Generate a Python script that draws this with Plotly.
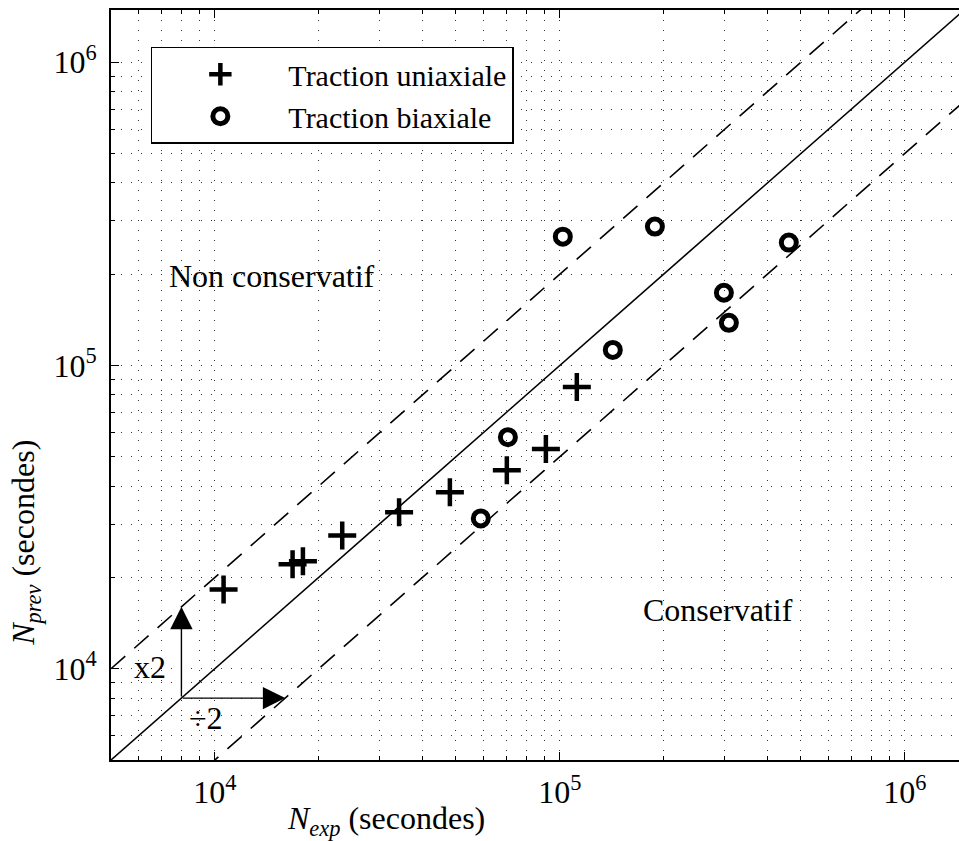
import math
import plotly.graph_objects as go

# Experimental vs predicted fatigue lives (seconds)
uni_exp = [10600, 16800, 18000, 23400, 34200, 48000, 70200, 91100, 112000]
uni_prev = [18250, 22100, 22600, 27500, 32800, 38200, 45100, 53000, 84900]

bi_exp = [59000, 70700, 102000, 142400, 188600, 298900, 309000, 461000]
bi_prev = [31300, 58000, 265900, 112500, 287000, 173700, 138200, 254100]

# Reference lines y = x, y = 2x, y = x/2
ref_x = [5000, 1.5e6]
band_factor = 2

# Arrow origin for the "x2 / ÷2" illustration
arrow_origin = 8000

major_vals = [1e4, 1e5, 1e6]
major_text = ["10<sup>4</sup>", "10<sup>5</sup>", "10<sup>6</sup>"]
minor_vals = [m * 10 ** k for k in range(3, 7) for m in range(2, 10)]

FONT = "Liberation Serif"
FS = 32

x_range = [math.log10(5000), 6.157]
y_range = [math.log10(5000), 6.172]

fig = go.Figure()

fig.add_trace(go.Scatter(x=ref_x, y=ref_x, mode="lines",
                         line=dict(color="black", width=1.6),
                         showlegend=False, hoverinfo="skip"))
fig.add_trace(go.Scatter(x=ref_x, y=[v * band_factor for v in ref_x], mode="lines",
                         line=dict(color="black", width=1.6, dash="19px,12px"),
                         showlegend=False, hoverinfo="skip"))
fig.add_trace(go.Scatter(x=ref_x, y=[v / band_factor for v in ref_x], mode="lines",
                         line=dict(color="black", width=1.6, dash="19px,12px"),
                         showlegend=False, hoverinfo="skip"))

fig.add_trace(go.Scatter(
    x=uni_exp, y=uni_prev, mode="markers", name="Traction uniaxiale",
    marker=dict(symbol="cross-thin", size=20, line=dict(color="black", width=4.5)),
))
fig.add_trace(go.Scatter(
    x=bi_exp, y=bi_prev, mode="markers", name="Traction biaxiale",
    marker=dict(symbol="circle-open", size=15, color="black",
                line=dict(color="black", width=5)),
))

axis_common = dict(
    type="log",
    showline=True, linecolor="black", linewidth=2,
    ticks="inside", ticklen=8, tickwidth=1, tickcolor="black",
    tickmode="array", tickvals=major_vals, ticktext=major_text,
    showgrid=True, gridcolor="#333", gridwidth=1, griddash="1px,9px",
    zeroline=False,
    tickfont=dict(family=FONT, size=FS, color="black"),
    minor=dict(tickmode="array", tickvals=minor_vals, ticks="inside", ticklen=4,
               tickcolor="black", showgrid=True, gridcolor="#333", gridwidth=1,
               griddash="1px,9px"),
)

fig.update_xaxes(range=x_range, mirror="allticks", ticklabelstandoff=3, **axis_common)
fig.update_yaxes(range=y_range, mirror=False, ticklabelstandoff=6, **axis_common)

lx = math.log10
txt_font = dict(family=FONT, size=FS, color="black")
annotations = [
    dict(x=lx(arrow_origin * band_factor), y=lx(arrow_origin),
         ax=lx(arrow_origin), ay=lx(arrow_origin), axref="x", ayref="y",
         xref="x", yref="y", text="", showarrow=True, arrowhead=2,
         arrowsize=3.2, arrowwidth=1.4, arrowcolor="black"),
    dict(x=lx(arrow_origin), y=lx(arrow_origin * band_factor),
         ax=lx(arrow_origin), ay=lx(arrow_origin), axref="x", ayref="y",
         xref="x", yref="y", text="", showarrow=True, arrowhead=2,
         arrowsize=3.2, arrowwidth=1.4, arrowcolor="black"),
    dict(x=3.812, y=4.007, xref="x", yref="y", text="x2", showarrow=False,
         font=txt_font),
    dict(x=3.975, y=3.838, xref="x", yref="y", text="÷2", showarrow=False,
         font=txt_font),
    dict(x=4.165, y=5.296, xref="x", yref="y", text="Non conservatif",
         showarrow=False, font=txt_font),
    dict(x=5.458, y=4.192, xref="x", yref="y", text="Conservatif",
         showarrow=False, font=txt_font),
    dict(x=0.324, y=-0.08, xref="paper", yref="paper",
         xanchor="center", yanchor="middle",
         text="<i>N</i><sub><i>exp</i></sub> (secondes)", showarrow=False,
         font=txt_font),
    dict(x=-0.101, y=0.29, xref="paper", yref="paper", textangle=-90,
         xanchor="center", yanchor="middle",
         text="<i>N</i><sub><i>prev</i></sub> (secondes)", showarrow=False,
         font=txt_font),
]

fig.update_layout(
    width=959, height=841,
    margin=dict(l=111, r=0, t=10, b=81),
    paper_bgcolor="white", plot_bgcolor="white",
    annotations=annotations,
    showlegend=True,
    legend=dict(
        x=0.047, y=0.951, xanchor="left", yanchor="top",
        bgcolor="white", bordercolor="black", borderwidth=1.5,
        font=dict(family=FONT, size=30, color="black"),
        itemwidth=126, tracegroupgap=0,
    ),
)

fig.write_html("out.html")
